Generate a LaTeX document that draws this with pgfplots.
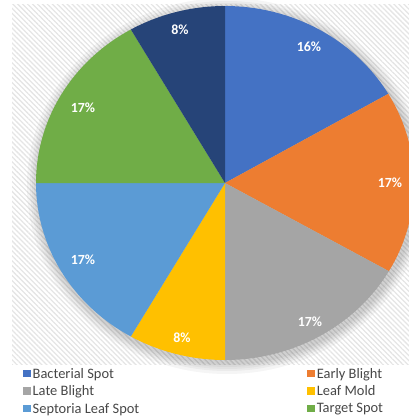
\documentclass[border=0pt]{standalone}
\usepackage{pgfplots}
\pgfplotsset{compat=1.18}
\usepackage{fontspec}
\setmainfont{Carlito}
\usetikzlibrary{patterns.meta}
\definecolor{cBac}{HTML}{4472C4}
\definecolor{cEar}{HTML}{ED7D31}
\definecolor{cLat}{HTML}{A5A5A5}
\definecolor{cMol}{HTML}{FFC000}
\definecolor{cSep}{HTML}{5B9BD5}
\definecolor{cTar}{HTML}{70AD47}
\definecolor{cOth}{HTML}{264478}
% slice shares (percent): 16.6, 16.7, 16.7, 8.3, 16.7, 16.7, 8.3 -> angles clockwise from 90 deg
\begin{document}
\begin{tikzpicture}
\begin{axis}[name=ax, scale only axis, width=409bp, height=417bp,
  xmin=0, xmax=409, ymin=0, ymax=417, y dir=reverse, hide axis, clip=false,
  legend columns=2,
  legend style={at={(axis cs:20,364)}, anchor=north west, draw=none, fill=none,
    font=\fontsize{14.5}{15}\selectfont, text=black!72, legend cell align=left,
    row sep=2bp, /tikz/column 2/.style={column sep=166bp}},
  legend image code/.code={\fill[#1] (0bp,-3.5bp) rectangle (7.5bp,4bp);},
  every axis plot/.append style={draw=none, samples=60, variable=\t},
]
\fill[pattern={Lines[angle=-45, distance=3.5bp, line width=1.3bp]}, pattern color=gray!20]
  (axis cs:12,5) rectangle (axis cs:409,364);
\fill[black, opacity=0.04] (axis cs:227,186) ellipse [x radius=200bp, y radius=188bp];
\fill[black, opacity=0.04] (axis cs:227,186) ellipse [x radius=197bp, y radius=185bp];
\fill[black, opacity=0.04] (axis cs:227,186) ellipse [x radius=195bp, y radius=183bp];
\fill[black, opacity=0.04] (axis cs:227,186) ellipse [x radius=193bp, y radius=181bp];
\fill[black, opacity=0.04] (axis cs:227,186) ellipse [x radius=191bp, y radius=179bp];
\addplot[fill=cBac, domain=30.24:90] ({225+189*cos(t)},{183-177*sin(t)}) -- (axis cs:225,183) -- cycle;
\addlegendentry{Bacterial Spot}
\addplot[fill=cEar, domain=-29.88:30.24] ({225+189*cos(t)},{183-177*sin(t)}) -- (axis cs:225,183) -- cycle;
\addlegendentry{Early Blight}
\addplot[fill=cLat, domain=-90:-29.88] ({225+189*cos(t)},{183-177*sin(t)}) -- (axis cs:225,183) -- cycle;
\addlegendentry{Late Blight}
\addplot[fill=cMol, domain=-119.88:-90] ({225+189*cos(t)},{183-177*sin(t)}) -- (axis cs:225,183) -- cycle;
\addlegendentry{Leaf Mold}
\addplot[fill=cSep, domain=-180:-119.88] ({225+189*cos(t)},{183-177*sin(t)}) -- (axis cs:225,183) -- cycle;
\addlegendentry{Septoria Leaf Spot}
\addplot[fill=cTar, domain=-240.12:-180] ({225+189*cos(t)},{183-177*sin(t)}) -- (axis cs:225,183) -- cycle;
\addlegendentry{Target Spot}
\addplot[fill=cOth, domain=-270:-240.12, forget plot] ({225+189*cos(t)},{183-177*sin(t)}) -- (axis cs:225,183) -- cycle;
\begin{scope}[every node/.style={text=white, font=\bfseries\fontsize{14}{15}\selectfont}]
\node at (axis cs:309,47) {16\%};
\node at (axis cs:390,183) {17\%};
\node at (axis cs:310,322) {17\%};
\node at (axis cs:182,338) {8\%};
\node at (axis cs:83,260) {17\%};
\node at (axis cs:83,108) {17\%};
\node at (axis cs:180,30) {8\%};
\end{scope}
\end{axis}
\pgfresetboundingbox
\path[use as bounding box] (ax.south west) rectangle (ax.north east);
\end{tikzpicture}
\end{document}
